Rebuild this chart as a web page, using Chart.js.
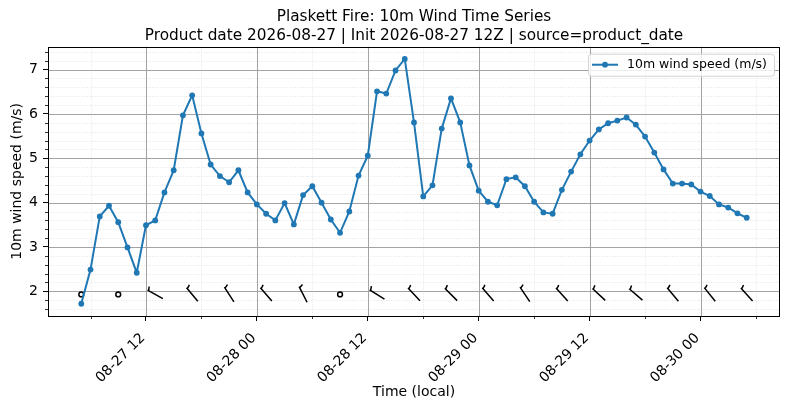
<!DOCTYPE html>
<html>
<head>
<meta charset="utf-8">
<script src="https://cdn.jsdelivr.net/npm/chart.js@4.4.0/dist/chart.umd.min.js"></script>
<style>
  html, body { margin: 0; padding: 0; background: #fff; }
</style>
</head>
<body>
<canvas id="chart" width="790" height="409"></canvas>
<script>
const titleLines = [
    "Plaskett Fire: 10m Wind Time Series",
    "Product date 2026-08-27 | Init 2026-08-27 12Z | source=product_date",
];
const seriesLabel = "10m wind speed (m/s)";

// hourly samples, hours counted from 08-27 00:00 local; first one is 05:00
const startHour = 5;
const windSpeed = [
    1.72, 2.49, 3.69, 3.93, 3.56, 2.99, 2.42, 3.49, 3.60, 4.23,
    4.73, 5.97, 6.42, 5.56, 4.86, 4.60, 4.46, 4.73, 4.23, 3.96,
    3.75, 3.60, 3.99, 3.51, 4.17, 4.37, 4.00, 3.62, 3.32, 3.80,
    4.61, 5.06, 6.51, 6.46, 6.98, 7.24, 5.81, 4.14, 4.39, 5.67,
    6.35, 5.81, 4.84, 4.27, 4.02, 3.94, 4.53, 4.57, 4.37, 4.02,
    3.78, 3.75, 4.29, 4.70, 5.09, 5.40, 5.65, 5.79, 5.85, 5.92,
    5.76, 5.49, 5.13, 4.75, 4.43, 4.43, 4.41, 4.25, 4.15, 3.96,
    3.89, 3.76, 3.66,
];

// wind barbs every 4 hours (direction wind blows from, knots; 0 = calm)
const barbHours = [5, 9, 13, 17, 21, 25, 29, 33, 37, 41, 45, 49, 53, 57, 61, 65, 69, 73, 77];
const barbDir = [0, 0, 299, 320, 327, 319, 333, 0, 302, 317, 315, 319, 326, 318, 313, 311, 320, 321, 318];
const barbKnots = [0, 0, 5, 5, 5, 5, 5, 0, 5, 5, 5, 5, 5, 5, 5, 5, 5, 5, 5];
const barbLevel = 1.93;

const tickHours = [12, 24, 36, 48, 60, 72];
const tickLabels = ["08-27 12", "08-28 00", "08-28 12", "08-29 00", "08-29 12", "08-30 00"];
const minorTickHours = [6, 18, 30, 42, 54, 66, 78];
const yTicks = [2, 3, 4, 5, 6, 7];

const FONT = "DejaVu Sans";
const LINE_COLOR = "#1f77b4";

const hours = windSpeed.map((_, i) => startHour + i);
const xPad = (hours[hours.length - 1] - hours[0]) * 0.05;
const ySpan = Math.max(...windSpeed) - Math.min(...windSpeed);
const yMin = Math.min(...windSpeed) - ySpan * 0.05;
const yMax = Math.max(...windSpeed) + ySpan * 0.05;

function minorYValues() {
    const out = [];
    for (let v = Math.ceil(yMin * 5); v <= Math.floor(yMax * 5); v++) {
        if (v % 5 !== 0) out.push(v / 5);
    }
    return out;
}

function drawBarb(ctx, cx, cy, dir, knots) {
    if (knots < 2.5) {
        ctx.beginPath();
        ctx.arc(cx, cy, 2.4, 0, Math.PI * 2);
        ctx.stroke();
        return;
    }
    const len = 17.5;
    const rad = dir * Math.PI / 180;
    const ux = Math.sin(rad), uy = -Math.cos(rad);
    const tx = cx + ux * len / 2, ty = cy + uy * len / 2;
    ctx.beginPath();
    ctx.moveTo(cx - ux * len / 2, cy - uy * len / 2);
    ctx.lineTo(tx, ty);
    // half barb just in from the tip, leaning outward
    const bx = tx - ux * 1.2, by = ty - uy * 1.2;
    ctx.moveTo(bx, by);
    ctx.lineTo(bx - uy * 4 + ux * 1.6, by + ux * 4 + uy * 1.6);
    ctx.stroke();
}

const decorations = {
    id: "decorations",
    beforeDatasetsDraw(chart) {
        const { ctx, chartArea: a, scales: { x, y } } = chart;
        ctx.save();
        ctx.lineWidth = 0.8;
        ctx.strokeStyle = "#dedede";
        ctx.setLineDash([1, 1.6]);
        ctx.beginPath();
        for (const h of minorTickHours) {
            const px = Math.round(x.getPixelForValue(h)) + 0.5;
            ctx.moveTo(px, a.top); ctx.lineTo(px, a.bottom);
        }
        for (const v of minorYValues()) {
            const py = Math.round(y.getPixelForValue(v)) + 0.5;
            ctx.moveTo(a.left, py); ctx.lineTo(a.right, py);
        }
        ctx.stroke();
        ctx.setLineDash([]);
        ctx.strokeStyle = "#a3a3a3";
        ctx.lineWidth = 1;
        ctx.beginPath();
        for (const h of tickHours) {
            const px = Math.round(x.getPixelForValue(h)) + 0.5;
            ctx.moveTo(px, a.top); ctx.lineTo(px, a.bottom);
        }
        for (const v of yTicks) {
            const py = Math.round(y.getPixelForValue(v)) + 0.5;
            ctx.moveTo(a.left, py); ctx.lineTo(a.right, py);
        }
        ctx.stroke();

        // wind barbs along the bottom
        ctx.strokeStyle = "#000";
        ctx.lineWidth = 1.5;
        ctx.lineCap = "butt";
        barbHours.forEach((h, i) => {
            drawBarb(ctx, x.getPixelForValue(h), y.getPixelForValue(barbLevel), barbDir[i], barbKnots[i]);
        });
        ctx.restore();
    },
    afterDatasetsDraw(chart) {
        const { ctx, chartArea: a, scales: { x, y } } = chart;
        ctx.save();
        // minor tick marks
        ctx.strokeStyle = "#000";
        ctx.lineWidth = 0.8;
        ctx.beginPath();
        for (const h of minorTickHours) {
            const px = Math.round(x.getPixelForValue(h)) + 0.5;
            ctx.moveTo(px, a.bottom); ctx.lineTo(px, a.bottom + 3);
        }
        for (const v of minorYValues()) {
            const py = Math.round(y.getPixelForValue(v)) + 0.5;
            ctx.moveTo(a.left, py); ctx.lineTo(a.left - 3, py);
        }
        ctx.stroke();

        // frame
        ctx.lineWidth = 1;
        ctx.strokeRect(Math.round(a.left) + 0.5, Math.round(a.top) + 0.5,
            Math.round(a.right - a.left) - 1, Math.round(a.bottom - a.top));

        // legend, upper right inside the axes
        const ds = chart.data.datasets[0];
        ctx.font = "12.5px '" + FONT + "'";
        const tw = ctx.measureText(ds.label).width;
        const w = tw + 46, h = 22;
        const lx = a.right - 6 - w, ly = a.top + 7;
        ctx.beginPath();
        ctx.roundRect(lx + 0.5, ly + 0.5, w, h, 3);
        ctx.fillStyle = "rgba(255,255,255,0.8)";
        ctx.fill();
        ctx.strokeStyle = "#d4d4d4";
        ctx.stroke();
        const my = ly + h / 2;
        ctx.strokeStyle = ds.borderColor;
        ctx.lineWidth = 2;
        ctx.beginPath();
        ctx.moveTo(lx + 4, my); ctx.lineTo(lx + 30, my);
        ctx.stroke();
        ctx.fillStyle = ds.borderColor;
        ctx.beginPath();
        ctx.arc(lx + 17, my, 2.9, 0, Math.PI * 2);
        ctx.fill();
        ctx.fillStyle = "#000";
        ctx.textBaseline = "middle";
        ctx.fillText(ds.label, lx + 39, my + 0.5);
        ctx.restore();
    },
};

const tickFont = { family: FONT, size: 14 };

new Chart(document.getElementById("chart"), {
    type: "line",
    plugins: [decorations],
    data: {
        datasets: [
            {
                label: seriesLabel,
                data: hours.map((h, i) => ({ x: h, y: windSpeed[i] })),
                borderColor: LINE_COLOR,
                backgroundColor: LINE_COLOR,
                borderWidth: 2,
                pointRadius: 2.9,
                pointHoverRadius: 2.9,
                pointBorderWidth: 0,
                tension: 0,
            },
        ],
    },
    options: {
        responsive: false,
        animation: false,
        layout: { padding: { left: 0, right: 10, top: 0, bottom: 0 } },
        plugins: {
            legend: { display: false },
            tooltip: { enabled: false },
            title: {
                display: true,
                fullSize: false,
                text: titleLines,
                color: "#000",
                font: { family: FONT, size: 15.3, weight: "normal", lineHeight: 1.2 },
                padding: { top: 8, bottom: 2 },
            },
        },
        scales: {
            x: {
                type: "linear",
                min: hours[0] - xPad,
                max: hours[hours.length - 1] + xPad,
                afterBuildTicks: (s) => { s.ticks = tickHours.map((v) => ({ value: v })); },
                afterFit: (s) => { s.height = 93; },
                border: { display: false },
                grid: { drawOnChartArea: false, drawTicks: true, tickLength: 5, tickColor: "#000", tickWidth: 1 },
                ticks: {
                    autoSkip: false,
                    minRotation: 45,
                    maxRotation: 45,
                    padding: 9,
                    labelOffset: -3,
                    color: "#000",
                    font: tickFont,
                    callback: (v) => tickLabels[tickHours.indexOf(v)] ?? "",
                },
                title: {
                    display: true,
                    text: "Time (local)",
                    color: "#000",
                    font: { family: FONT, size: 14 },
                    padding: { top: 0, bottom: 8 },
                },
            },
            y: {
                type: "linear",
                min: yMin,
                max: yMax,
                afterBuildTicks: (s) => { s.ticks = yTicks.map((v) => ({ value: v })); },
                afterFit: (s) => { s.width = 48; },
                border: { display: false },
                grid: { drawOnChartArea: false, drawTicks: true, tickLength: 5, tickColor: "#000", tickWidth: 1 },
                ticks: { padding: 5, color: "#000", font: tickFont },
                title: {
                    display: true,
                    text: "10m wind speed (m/s)",
                    color: "#000",
                    font: { family: FONT, size: 14 },
                    padding: { top: 8.5, bottom: 0 },
                },
            },
        },
    },
});
</script>
</body>
</html>
